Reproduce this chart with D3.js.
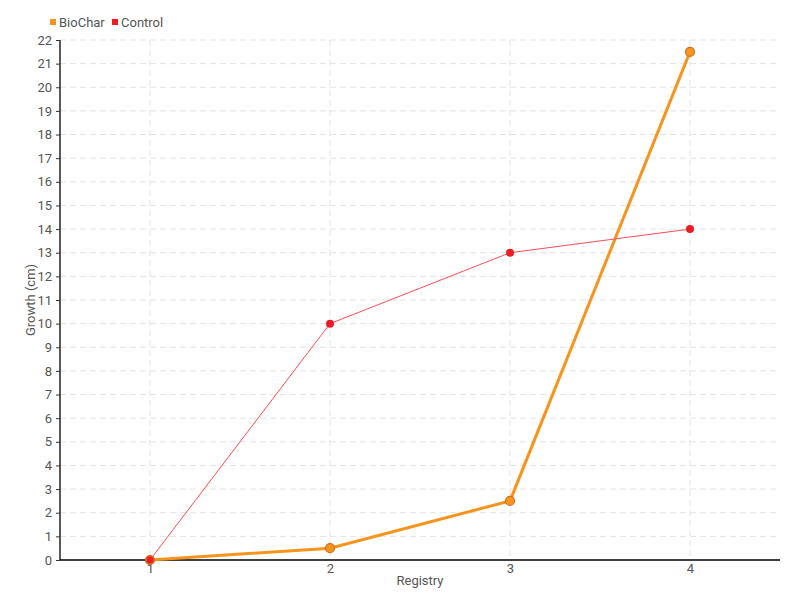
<!DOCTYPE html>
<html><head><meta charset="utf-8">
<script src="https://cdn.jsdelivr.net/npm/d3@7"></script>
<style>body{margin:0;background:#fff}svg text{font-family:Roboto,"Liberation Sans",sans-serif;fill:#555}</style>
</head><body><svg id="c" width="800" height="600"></svg>
<script>
const registry = [1, 2, 3, 4];
const biochar = [0, 0.5, 2.5, 21.5];
const control = [0, 10, 13, 14];
const yTicks = d3.range(0, 23);
const seriesNames = ["BioChar", "Control"];
const colors = ["#f7941d", "#ee1c25"];

const svg = d3.select("#c");
const m = {l: 60, r: 20, t: 40, b: 40};
const W = 800, H = 600;
const x = d3.scaleLinear().domain([0.5, 4.5]).range([m.l, W - m.r]);
const y = d3.scaleLinear().domain([0, 22]).range([H - m.b, m.t]);

// grid
const g = svg.append("g");
g.selectAll(".hg").data(yTicks.slice(1)).join("line")
  .attr("x1", m.l).attr("x2", W - m.r).attr("y1", d => y(d)).attr("y2", d => y(d))
  .attr("stroke", "#e3e3e3").attr("stroke-dasharray", "6,4");
g.selectAll(".vg").data(registry).join("line")
  .attr("x1", d => x(d)).attr("x2", d => x(d)).attr("y1", m.t).attr("y2", H - m.b)
  .attr("stroke", "#e3e3e3").attr("stroke-dasharray", "6,4");

// axes
const ya = svg.append("g").attr("transform", `translate(${m.l},0)`)
  .call(d3.axisLeft(y).tickValues(yTicks).tickSize(4).tickPadding(4).tickFormat(d3.format("d")));
const xa = svg.append("g").attr("transform", `translate(0,${H - m.b})`)
  .call(d3.axisBottom(x).tickValues(registry).tickSize(0).tickPadding(4).tickFormat(d3.format("d")));
[ya, xa].forEach(a => {
  a.select(".domain").attr("stroke", "#000").attr("stroke-width", 1.3);
  a.selectAll(".tick line").attr("stroke", "#333");
  a.selectAll("text").style("font-size", "13px").attr("fill", "#555");
});
ya.select(".domain").attr("d", `M0,${y(0)}V${y(22)}`);
xa.select(".domain").attr("d", `M${m.l},0H${W - m.r}`);

// titles
svg.append("text").attr("x", 420).attr("y", 585).attr("text-anchor", "middle")
  .style("font-size", "13px").text("Registry");
svg.append("text").attr("transform", "translate(35,300) rotate(-90)").attr("text-anchor", "middle")
  .style("font-size", "13px").text("Growth (cm)");

const line = d3.line().x((d, i) => x(registry[i])).y(d => y(d));
svg.append("path").datum(biochar).attr("d", line).attr("fill", "none")
  .attr("stroke", colors[0]).attr("stroke-width", 3);
svg.append("path").datum(control).attr("d", line).attr("fill", "none")
  .attr("stroke", "#ff4d55").attr("stroke-width", 1);
svg.selectAll(".bp").data(biochar).join("circle")
  .attr("cx", (d, i) => x(registry[i])).attr("cy", d => y(d)).attr("r", 4.5)
  .attr("fill", colors[0]).attr("stroke", "#d2701a").attr("stroke-width", 1.2);
svg.selectAll(".cp").data(control).join("circle")
  .attr("cx", (d, i) => x(registry[i])).attr("cy", d => y(d)).attr("r", 4)
  .attr("fill", colors[1]).attr("stroke", (d, i) => i === 0 ? "#d2701a" : "none").attr("stroke-width", 1.2);

// legend
const lg = svg.append("g");
const lx = [50, 112];
seriesNames.forEach((n, i) => {
  lg.append("rect").attr("x", lx[i]).attr("y", 19).attr("width", 6).attr("height", 6).attr("fill", colors[i]);
  lg.append("text").attr("x", lx[i] + 9).attr("y", 27).style("font-size", "13px").text(n);
});
</script></body></html>
